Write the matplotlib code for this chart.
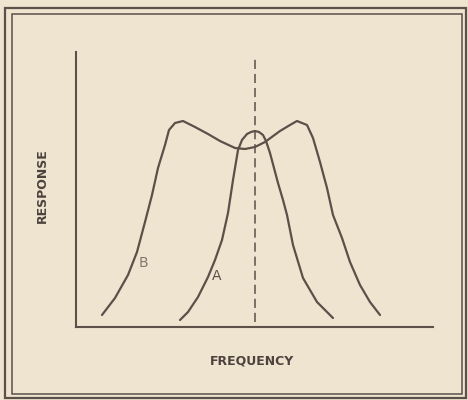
import matplotlib
matplotlib.use("Agg")
import matplotlib.pyplot as plt
from matplotlib.patches import Rectangle

# --- response curves (frequency, response) in arbitrary units ---
b_freq = [26, 39, 52, 61, 69, 76, 82, 89, 93, 99, 107, 119, 132, 144, 159, 169, 179,
          189, 204, 214, 221, 231, 237, 244, 251, 257, 266, 274, 284, 294, 304]
b_resp = [12, 29, 52, 75, 105, 132, 159, 182, 197, 204, 206, 200, 193, 186, 179, 178,
          180, 185, 196, 202, 206, 202, 189, 165, 139, 112, 89, 65, 42, 25, 12]

a_freq = [104, 112, 122, 132, 139, 146, 152, 157, 162, 166, 171, 175, 179, 183, 187,
          190, 194, 198, 202, 207, 211, 217, 227, 241, 257]
a_resp = [7, 15, 30, 50, 67, 87, 114, 147, 177, 187, 193, 195, 196, 195, 192, 186,
          174, 159, 144, 127, 112, 82, 49, 25, 9]

centre_freq = 179          # dashed marker line
centre_span = (5, 269)

ink = "#5b504a"
paper = "#efe4cf"

fig = plt.figure(figsize=(4.68, 4.0), dpi=100, facecolor=paper)

# double frame round the figure (pixel boxes -> figure fraction)
W, H = 468.0, 400.0
for (x0, y0, x1, y1, lw) in [(5, 8, 466, 398, 1.6), (12, 14, 462, 394, 1.1)]:
    fig.add_artist(Rectangle((x0 / W, 1 - y1 / H), (x1 - x0) / W, (y1 - y0) / H,
                             transform=fig.transFigure, fill=False,
                             edgecolor=ink, lw=lw))

ax = fig.add_axes([76 / W, 1 - 327 / H, (433 - 76) / W, (327 - 52) / H])
ax.set_facecolor(paper)
ax.set_xlim(0, 357)
ax.set_ylim(0, 275)
for s in ["top", "right"]:
    ax.spines[s].set_visible(False)
for s in ["left", "bottom"]:
    ax.spines[s].set_color(ink)
    ax.spines[s].set_linewidth(1.5)
ax.set_xticks([])
ax.set_yticks([])

for fx, ry in [(b_freq, b_resp), (a_freq, a_resp)]:
    ax.plot(fx, ry, color=ink, lw=1.6, solid_capstyle="round",
            solid_joinstyle="round", clip_on=False)
ax.plot([centre_freq, centre_freq], centre_span, color=ink, lw=1.1,
        dashes=(6, 3.2))

ax.text(67, 64, "B", color="#857870", fontsize=10, ha="center", va="center")
ax.text(141, 51, "A", color=ink, fontsize=10, ha="center", va="center")

ax.set_xlabel("FREQUENCY", fontsize=9, fontweight="bold", color="#4d433e")
ax.set_ylabel("RESPONSE", fontsize=9, fontweight="bold", color="#4d433e")
ax.yaxis.set_label_coords(-27 / 357, (327 - 186) / 275)
ax.xaxis.set_label_coords((252 - 76) / 357, -(354 - 327) / 275)

fig.savefig("out.png", dpi=100, facecolor=paper)
